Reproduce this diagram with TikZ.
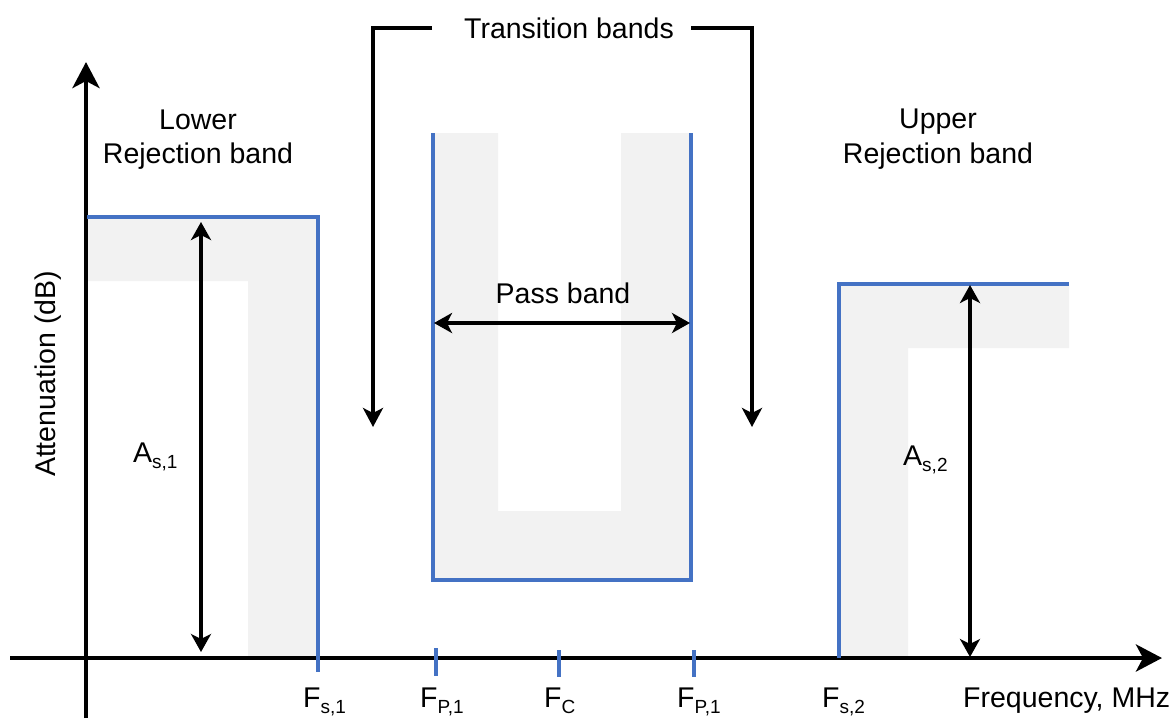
\documentclass[tikz,border=0pt]{standalone}
\usepackage{fontspec}
\setmainfont{Liberation Sans}
\usetikzlibrary{arrows.meta}
\definecolor{bandblue}{HTML}{4472C4}
\definecolor{bandgray}{HTML}{F2F2F2}
\newcommand\mysub[1]{\raisebox{-6.5pt}{\fontsize{19}{19}\selectfont #1}}
\begin{document}
\begin{tikzpicture}[x=1pt,y=-1pt,
  lbl/.style={font=\fontsize{28.5}{33}\selectfont, inner sep=0pt, anchor=base},
  lblw/.style={lbl, anchor=base west},
  axis/.style={line width=4.5pt, -{Stealth[length=26pt,width=27pt,inset=7pt]}},
  dim/.style={line width=3.6pt, {Stealth[length=18pt,width=20pt,inset=5pt]}-{Stealth[length=18pt,width=20pt,inset=5pt]}},
  ptr/.style={line width=3.6pt, miter limit=10, -{Stealth[length=19pt,width=20pt,inset=5pt]}},
  limitline/.style={draw=bandblue, line width=3.8pt},
  tickmark/.style={draw=bandblue, line width=4pt},
  shade/.style={fill=bandgray}
]
\useasboundingbox (0,0) rectangle (1174,718);
% grey tolerance regions
\fill[shade] (87,217) -- (318,217) -- (318,658) -- (248,658) -- (248,281) -- (87,281) -- cycle;
\fill[shade] (433,133) -- (498,133) -- (498,511) -- (621,511) -- (621,133) -- (691,133) -- (691,580) -- (433,580) -- cycle;
\fill[shade] (839,284) -- (1069,284) -- (1069,348) -- (908,348) -- (908,658) -- (839,658) -- cycle;
% axes
\coordinate (ybot) at (86,718);
\coordinate (ytop) at (86,62);
\coordinate (xl) at (10,658);
\coordinate (xr) at (1162,658);
\draw[axis] (ybot) -- (ytop);
\draw[axis] (xl) -- (xr);
% blue limits
\draw[limitline] (87,217) -- (318,217) -- (318,672);
\draw[limitline] (433,133) -- (433,580) -- (691,580) -- (691,133);
\draw[limitline] (839,658) -- (839,284) -- (1069,284);
\draw[tickmark] (436,648) -- (436,676);
\draw[tickmark] (559,650) -- (559,677);
\draw[tickmark] (694,650) -- (694,677);
% dimension arrows
\coordinate (a1t) at (201,222);
\coordinate (a1b) at (201,652);
\draw[dim] (a1t) -- (a1b);
\coordinate (a2t) at (970,285);
\coordinate (a2b) at (970,657);
\draw[dim] (a2t) -- (a2b);
\coordinate (pbl) at (434,323);
\coordinate (pbr) at (690,323);
\draw[dim] (pbl) -- (pbr);
% transition bracket
\node[lbl] (trans) at (569,38) {Transition bands};
\coordinate (tl1) at (432,28);
\coordinate (tl2) at (373,28);
\coordinate (tl3) at (373,427);
\coordinate (tr1) at (691,28);
\coordinate (tr2) at (752,28);
\coordinate (tr3) at (752,427);
\draw[ptr] (tl1) -- (tl2) -- (tl3);
\draw[ptr] (tr1) -- (tr2) -- (tr3);
% labels
\node[lbl] (low1) at (198,129) {Lower};
\node[lbl] (low2) at (198,163) {Rejection band};
\node[lbl] (up1) at (938,128) {Upper};
\node[lbl] (up2) at (938,163) {Rejection band};
\node[lbl] (pass) at (563,303) {Pass band};
\node[lblw] (as1) at (133,462) {A\mysub{s,1}};
\node[lblw] (as2) at (903,465) {A\mysub{s,2}};
\node[lbl, rotate=90] (att) at (55,374) {Attenuation (dB)};
\node[lblw] (fs1) at (303,707) {F\mysub{s,1}};
\node[lblw] (fp1) at (420,707) {F\mysub{P,1}};
\node[lblw] (fc) at (544,707) {F\mysub{C}};
\node[lblw] (fp2) at (677,707) {F\mysub{P,1}};
\node[lblw] (fs2) at (822,707) {F\mysub{s,2}};
\node[lblw] (freq) at (963,707) {Frequency, MHz};
\end{tikzpicture}
\end{document}
